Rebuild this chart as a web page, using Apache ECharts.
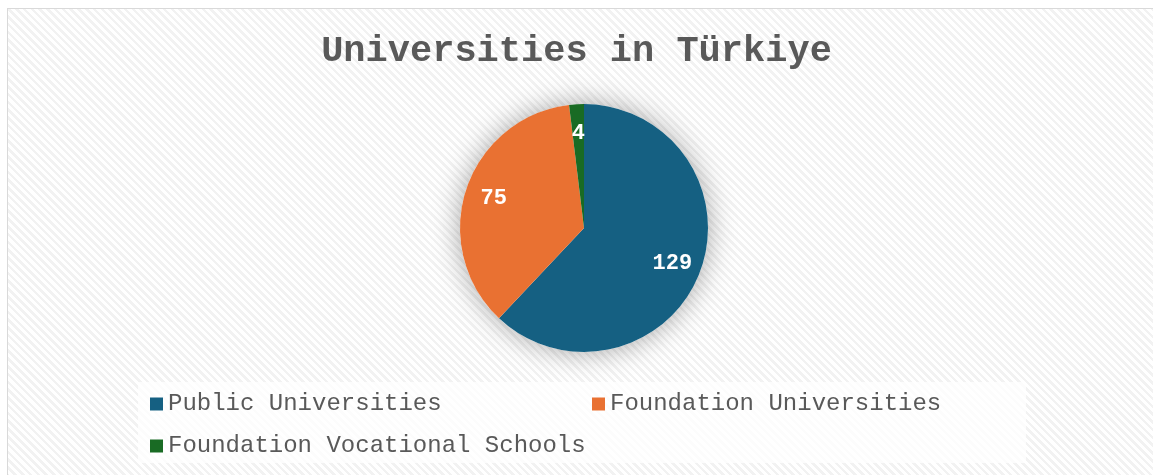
<!DOCTYPE html>
<html>
<head lang="en">
    <meta charset="UTF-8">
    <title>Universities in Türkiye</title>
    <script src="https://cdn.jsdelivr.net/npm/echarts@6/dist/echarts.min.js"></script>
    <style>
        html, body {
            margin: 0;
            padding: 0;
            overflow: hidden;
            background: #ffffff;
        }
        #frame {
            position: absolute;
            left: 7px;
            top: 8px;
            width: 1160px;
            height: 480px;
            border-top: 1px solid #d9d9d9;
            border-left: 1px solid #d9d9d9;
            background: repeating-linear-gradient(45deg, #ffffff 0px, #ffffff 3px, #f2f2f2 3px, #f2f2f2 5.5px);
        }
        #container {
            position: absolute;
            left: 0;
            top: 0;
            width: 1153px;
            height: 475px;
        }
    </style>
</head>
<body>
<div id="frame"></div>
<div id="container"></div>
<script>
    var categories = ['Public Universities', 'Foundation Universities', 'Foundation Vocational Schools'];
    var counts = [129, 75, 4];

    var palette = ['#156082', '#e97132', '#196b24'];
    var font = '"Liberation Mono", "Courier New", monospace';

    var slices = categories.map(function (name, i) {
        return { name: name, value: counts[i] };
    });
    var total = counts.reduce(function (a, b) { return a + b; }, 0);

    var myChart = echarts.init(document.getElementById('container'));
    myChart.setOption({
        backgroundColor: 'transparent',
        animation: false,
        color: palette,
        title: {
            text: 'Universities in Türkiye',
            left: 'center',
            top: 33,
            padding: 0,
            textStyle: {
                fontFamily: font,
                fontWeight: 'bold',
                fontSize: 37,
                color: '#595959'
            }
        },
        graphic: [{
            type: 'rect',
            left: 138,
            top: 382,
            shape: { width: 888, height: 81 },
            style: { fill: 'rgba(255,255,255,0.72)' },
            z: 0,
            silent: true
        }],
        legend: {
            data: categories,
            left: 150,
            top: 383,
            width: 890,
            padding: 0,
            itemGap: 0,
            itemWidth: 13,
            itemHeight: 13,
            icon: 'rect',
            textStyle: {
                fontFamily: font,
                fontSize: 24,
                color: '#595959',
                width: 424,
                lineHeight: 42
            }
        },
        series: [
            {
                // slices
                type: 'pie',
                center: [584, 228],
                radius: 124,
                startAngle: 90,
                clockwise: true,
                z: 3,
                silent: true,
                label: { show: false },
                labelLine: { show: false },
                data: slices
            },
            {
                // value labels, placed a bit further out than the default
                type: 'pie',
                center: [584, 228],
                radius: [60, 124],
                startAngle: 90,
                clockwise: true,
                z: 4,
                silent: true,
                itemStyle: { color: 'rgba(0,0,0,0)' },
                label: {
                    show: true,
                    position: 'inside',
                    formatter: '{c}',
                    fontFamily: font,
                    fontWeight: 'bold',
                    fontSize: 22,
                    color: '#ffffff'
                },
                labelLine: { show: false },
                data: slices
            },
            {
                // soft shadow behind the whole pie
                type: 'pie',
                center: [584, 228],
                radius: 124,
                z: 2,
                silent: true,
                label: { show: false },
                itemStyle: {
                    color: '#ffffff',
                    shadowBlur: 28,
                    shadowColor: 'rgba(0,0,0,0.35)'
                },
                data: [{ name: '', value: total }]
            }
        ]
    });
</script>
</body>
</html>
